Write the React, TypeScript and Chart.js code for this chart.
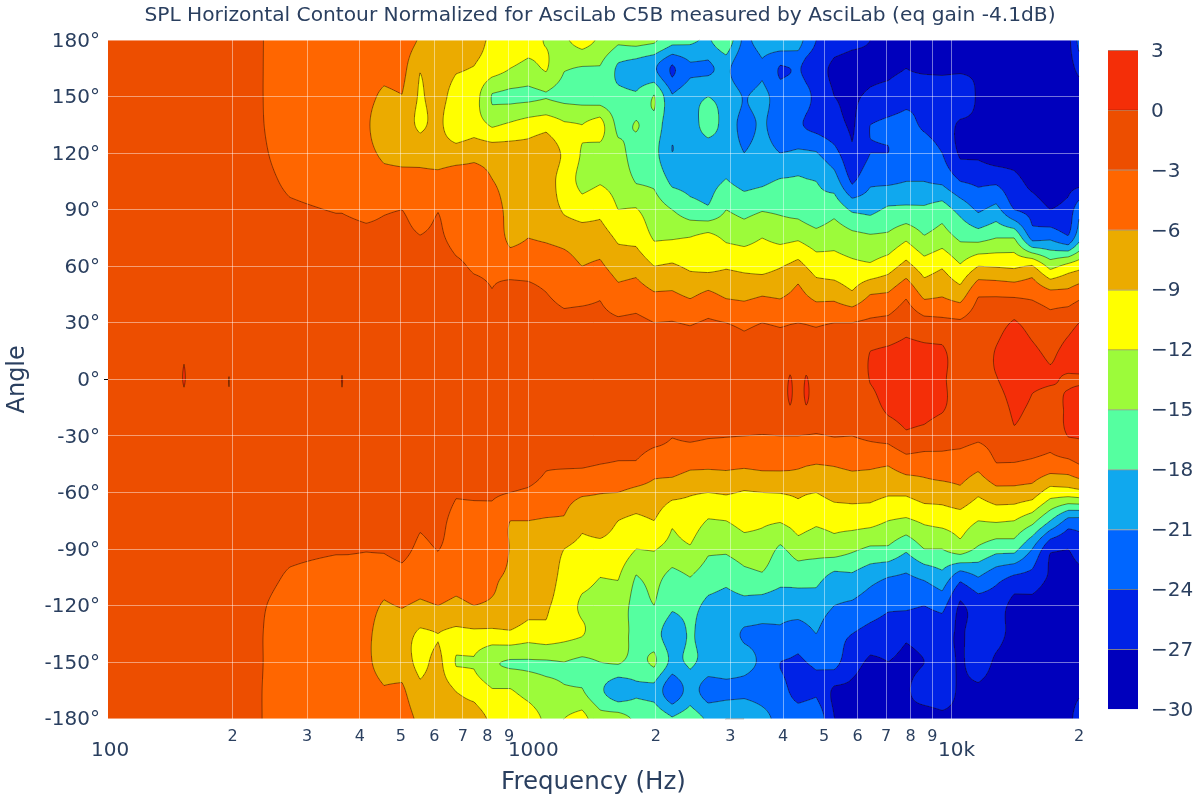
import React, { useEffect, useRef } from "react";
import { Chart, registerables } from "chart.js";

Chart.register(...registerables);

const TITLE = "SPL Horizontal Contour Normalized for AsciLab C5B measured by AsciLab (eq gain -4.1dB)";
const INK = "#2a3f5f";
const FONT = "'DejaVu Sans', Verdana, sans-serif";

const angles = [180,165,150,135,120,105,90,75,60,45,30,15,0,-15,-30,-45,-60,-75,-90,-105,-120,-135,-150,-165,-180];
const frequencies = [101.6,147,153.6,160.5,191,196,201.6,235,273,351,363,375,414,456,503,555,612,675,744,821,906,999,1101,1215,1340,1478,1630,1797,1983,2187,2412,2660,2933,3236,3568,3936,4157,4340,4536,4786,5280,5822,6422,7082,7810,8616,9502,10482,11560,12748,14062,15506,17106,18866,20000];

const c101 = [-2,-2,-2,-2,-2,-2,-1.9,-1.9,-1.8,-1.8,-1.7,-1.6,-1.5,-1.6,-1.7,-1.8,-1.8,-1.9,-1.9,-2,-2,-2,-2,-2,-2];
const c147 = [-1.9,-1.9,-1.9,-1.9,-1.8,-1.8,-1.8,-1.7,-1.7,-1.6,-1.5,-1.3,-1,-1.3,-1.5,-1.6,-1.7,-1.7,-1.8,-1.8,-1.8,-1.9,-1.9,-1.9,-1.9];
const c154 = [-1.9,-1.9,-1.9,-1.9,-1.8,-1.8,-1.8,-1.7,-1.7,-1.6,-1.4,-0.4,0.2,-0.9,-1.5,-1.6,-1.7,-1.7,-1.8,-1.8,-1.8,-1.9,-1.9,-1.9,-1.9];
const c160 = [-1.9,-1.9,-1.9,-1.9,-1.8,-1.8,-1.8,-1.7,-1.7,-1.6,-1.5,-1.3,-1,-1.3,-1.5,-1.6,-1.7,-1.7,-1.8,-1.8,-1.8,-1.9,-1.9,-1.9,-1.9];
const c191 = [-2.2,-2.2,-2.2,-2.1,-2.1,-2,-1.9,-1.8,-1.7,-1.6,-1.5,-1.3,-1,-1.2,-1.4,-1.6,-1.7,-1.8,-1.9,-2,-2.1,-2.2,-2.2,-2.2,-2.2];
const c196 = [-2.2,-2.2,-2.2,-2.1,-2.1,-2,-1.9,-1.8,-1.7,-1.6,-1.5,-1.3,0.1,-0.7,-1.4,-1.6,-1.7,-1.8,-1.9,-2,-2.1,-2.2,-2.2,-2.2,-2.2];
const c202 = [-2.3,-2.3,-2.3,-2.2,-2.2,-2.1,-1.9,-1.8,-1.7,-1.6,-1.5,-1.3,-1,-1.2,-1.4,-1.6,-1.7,-1.8,-1.9,-2.1,-2.2,-2.3,-2.3,-2.3,-2.3];
const c235 = [-2.95,-2.95,-2.95,-2.9,-2.7,-2.4,-2.2,-2,-1.8,-1.6,-1.5,-1.3,-1.1,-1.3,-1.5,-1.6,-1.8,-2,-2.2,-2.3,-2.8,-2.95,-2.95,-3,-3];
const c273 = [-4,-4.2,-4.3,-4.3,-4,-3.4,-2.7,-2.2,-2,-1.8,-1.6,-1.4,-1.2,-1.4,-1.6,-1.8,-2,-2.2,-2.5,-3.3,-4,-4.3,-4.3,-4.2,-4];
const c351 = [-4.8,-4.8,-4.8,-4.8,-4.6,-4,-3.1,-2.4,-2,-1.7,-1.5,-1.3,-1,-1.3,-1.5,-1.7,-2,-2.4,-2.8,-4,-4.8,-5,-5,-4.9,-4.8];
const c363 = [-4.8,-4.8,-4.8,-4.8,-4.6,-4,-3.1,-2.4,-2,-1.7,-1.5,-1.3,0.1,-0.8,-1.5,-1.7,-2,-2.4,-2.8,-4,-4.8,-5,-5,-4.9,-4.8];
const c375 = [-4.9,-4.9,-4.9,-4.9,-4.7,-4.1,-3.2,-2.4,-2,-1.7,-1.5,-1.3,-1,-1.2,-1.4,-1.6,-1.9,-2.3,-2.8,-4,-4.9,-5.2,-5.2,-5,-4.9];
const c414 = [-5,-5,-5.3,-5.6,-5.3,-4.5,-3.5,-2.5,-1.8,-1.5,-1.3,-1,-1,-1.1,-1.3,-1.5,-1.8,-2.2,-2.9,-4,-5,-5.5,-5.5,-5,-5];
const c456 = [-4.5,-5.2,-6.5,-7.5,-6.5,-5,-3.2,-2.6,-2,-1.7,-1.5,-1.2,-1,-1.2,-1.4,-1.6,-1.9,-2.2,-2.8,-4.5,-6.3,-7,-7,-5.8,-5];
const c503 = [-4.5,-5,-6.1,-7.5,-6.8,-5,-3,-2.5,-2,-1.7,-1.5,-1.2,-1,-1.2,-1.4,-1.5,-1.7,-1.8,-2.2,-4,-5.8,-7.8,-7.5,-5.5,-5];
const c555 = [-6.3,-8.8,-9.5,-9.6,-7,-5.2,-4,-2.9,-2,-1.7,-1.5,-1.2,-1,-1.2,-1.3,-1.5,-1.6,-2.6,-3.6,-4.8,-6.5,-9.5,-10,-8.2,-6.5];
const c612 = [-7.5,-7.3,-7.5,-8,-7.3,-5,-3.1,-2.6,-2,-1.7,-1.5,-1.2,-1,-1.2,-1.4,-1.5,-1.8,-2.3,-2.9,-4.5,-6,-9,-8,-7.5,-7];
const c675 = [-8,-8.7,-10.5,-11.5,-7.5,-4.5,-4.2,-3.6,-2.7,-2.3,-1.8,-1.4,-1.1,-1.2,-1.5,-2,-2.8,-3.7,-4,-5,-6.7,-9.8,-12.2,-9.1,-8];
const c744 = [-8,-9.1,-10.5,-10.5,-6.8,-4.9,-4,-3.6,-3.2,-2.4,-1.9,-1.5,-1.2,-1.3,-1.6,-2,-2.7,-3.8,-4.5,-5,-6,-9.6,-12.2,-10,-7.8];
const c821 = [-9.5,-10.6,-15.2,-12.4,-7.2,-5.9,-4.8,-3.8,-3.3,-2.9,-2.2,-1.8,-1.5,-1.5,-1.8,-2.2,-2.7,-3.8,-4.5,-5.7,-6.4,-9.8,-14.8,-11.8,-9.5];
const c906 = [-10.5,-12,-15.5,-11.6,-7.5,-7,-6.8,-6.8,-4,-2.2,-1.8,-1.5,-1.3,-1.4,-1.8,-2.3,-3,-6,-6.1,-6.3,-6.8,-9.5,-15.2,-11.8,-10];
const c999 = [-11,-12.8,-15.5,-10.7,-7.8,-7.4,-7,-6,-4,-2.3,-1.8,-1.5,-1.3,-1.4,-1.8,-2.2,-3.3,-6,-7,-7.4,-8,-10.5,-15.2,-13,-10.7];
const c1101 = [-12.2,-11.7,-15.1,-10,-7,-7.3,-7.2,-6.3,-4.2,-2.9,-1.9,-1.5,-1.3,-1.5,-2,-2.8,-3.8,-6.2,-7,-7.4,-8.5,-10,-15.2,-14,-12.5];
const c1215 = [-12.5,-14.8,-15.7,-11.6,-9.5,-10.5,-9.4,-6.8,-5,-3.8,-2.3,-2,-1.5,-1.5,-2.1,-2.7,-5,-6.3,-9,-10,-10.5,-11,-15,-14.7,-12];
const c1340 = [-10.7,-15.2,-16,-12,-12.3,-12.8,-10.5,-7.3,-6,-3.8,-2.1,-1.8,-1.5,-1.5,-2,-2.7,-5.6,-8.2,-9.8,-11,-12.5,-11.8,-15.5,-14.8,-11];
const c1478 = [-12.5,-15.2,-16.5,-10.8,-13,-12.2,-9.8,-7.5,-5.5,-3.3,-2.3,-1.8,-1.5,-1.5,-2,-3,-5.9,-7.5,-9.9,-12,-13,-13.5,-15,-17.5,-14];
const c1630 = [-14.5,-18.5,-17.2,-16,-13.8,-12.8,-12,-9.5,-7.3,-5,-2.6,-2,-1.6,-1.6,-2.3,-3.2,-6,-9,-10,-11.8,-13.5,-14,-14.7,-20,-13.8];
const c1797 = [-14,-19.5,-17.5,-14.8,-16.5,-15.2,-11.8,-9.8,-7,-4.6,-2.4,-2,-1.6,-1.6,-1.7,-3.3,-6.7,-9.7,-12,-15.2,-16,-15.7,-16,-18.5,-15.5];
const c1983 = [-14.5,-20.5,-14.8,-16,-17,-15.5,-13.6,-12.3,-9,-5.7,-3,-2.2,-1.6,-1.5,-2,-4.8,-7,-9,-11.8,-14,-15,-16.7,-14.5,-18.8,-16];
const c2187 = [-17,-24.5,-20.8,-20.5,-21,-18.7,-15,-12.2,-8.6,-5.6,-2.9,-2.2,-1.6,-1.5,-2.9,-4.5,-8,-11.5,-13,-16,-17.5,-20,-19,-23.5,-17.8];
const c2412 = [-17.5,-21.5,-19,-20,-20,-19,-16.7,-11.9,-9.5,-6.5,-3.2,-2.3,-1.7,-1.5,-2.5,-5.3,-8.7,-10.5,-12.3,-15,-17,-17.5,-17.5,-19.5,-16.5];
const c2660 = [-18.5,-21.5,-18,-16,-20.5,-19,-17.5,-11,-9.8,-5.4,-2.7,-2,-1.6,-1.4,-2.8,-5.4,-9,-12.2,-14.5,-16.5,-18.7,-19.5,-19,-22.5,-18.5];
const c2933 = [-15.5,-20,-19,-19.5,-19.2,-17.8,-15,-12.5,-9.3,-6.5,-3,-2.2,-1.6,-1.3,-2.9,-5.3,-8.7,-12,-14.5,-17.2,-19.2,-20,-18.7,-22,-18];
const c3236 = [-22,-24,-21.3,-22,-21,-19,-16,-13,-9.7,-6.8,-3.5,-2.4,-1.7,-1.4,-3,-5.5,-9.2,-11,-13.5,-16,-19,-21.3,-20,-21.8,-18];
const c3568 = [-19.5,-21.5,-20,-20.5,-19.8,-18.5,-15.2,-12,-10,-6.2,-3,-2.3,-1.6,-1.4,-3.1,-5.2,-9,-11.5,-13.3,-15.5,-19.5,-21.5,-21.5,-22.3,-20];
const c3936 = [-19,-24.3,-22.5,-22.5,-21,-17.7,-15.5,-12.8,-9.2,-6.5,-3.3,-2.3,-1.6,-1.3,-3,-5.2,-8.9,-11.8,-15.5,-17,-20,-21.5,-24,-23,-22];
const c4157 = [-19.2,-24,-22,-23,-20.8,-17.6,-15.8,-12.6,-8.6,-5.8,-3.1,-2.2,0.3,-0.1,-3,-5.3,-8.7,-11.2,-14.5,-17,-19.8,-22,-24.2,-24.2,-22];
const c4340 = [-19.5,-23.5,-21,-23.5,-20.5,-17.5,-16,-12.4,-8,-5,-3,-2.2,-1.5,-1.3,-3,-5.5,-8.5,-10.5,-13.5,-17,-19.5,-22.5,-24.5,-25.5,-22];
const c4536 = [-22,-25,-23,-24.3,-20.6,-17.8,-16.6,-13,-9.1,-6,-3.1,-2.3,0.3,-0.1,-3.1,-5.8,-8.8,-11,-13.8,-17,-19.5,-21.8,-24,-25,-21.8];
const c4786 = [-24,-26,-25,-25,-20.8,-18,-17.3,-13.7,-10.3,-7,-3.3,-2.4,-1.5,-1.2,-3.2,-6,-9,-11.5,-14,-17,-19.5,-21,-23.5,-24.5,-21.5];
const c5280 = [-26,-27.5,-27,-26,-23,-19.5,-16,-13,-10.7,-7,-3,-2.2,-1.5,-1.3,-2.9,-5.8,-8,-11,-13.5,-19,-21,-23,-23,-27.5,-27];
const c5822 = [-26.5,-28,-27.5,-27.5,-26.5,-24.5,-18.5,-14,-11.3,-8.5,-3,-2.3,-1.6,-1.4,-3,-5.4,-7.9,-10.8,-14.5,-18.6,-21.5,-24,-26,-27.5,-27.5];
const c6422 = [-27,-27.5,-26.5,-24,-24,-21.5,-18.8,-14.5,-11.5,-6,-2.5,0,0.1,-1,-2.5,-5.5,-8,-11,-15.5,-20,-22.5,-25,-27.5,-28,-28];
const c7082 = [-27.5,-27.5,-26,-23.5,-24,-21.5,-17.5,-14.3,-10.3,-5.7,-2.2,0.3,0.6,0.5,-2,-5.8,-8.6,-12,-15.5,-21,-23.5,-25.5,-27,-27.5,-28];
const c7810 = [-27,-27,-25,-23,-22.5,-21,-17.3,-12.5,-8,-3.5,-1,0.7,1,1,-0.5,-4.5,-8.5,-12.5,-17.5,-21.5,-23.5,-26.5,-27.5,-27.3,-27.5];
const c8616 = [-27.5,-27.5,-24.5,-24.5,-22,-21,-17.5,-14.7,-10.5,-6.8,-2,0.5,0.7,0.9,-1,-4.7,-7.5,-11.5,-15,-20.5,-24,-26,-27,-26,-28];
const c9502 = [-27,-27.5,-25,-25.5,-24,-21.5,-16.5,-13.5,-9.3,-6.3,-2.3,0.4,0.3,0.3,-2,-4,-7.5,-11,-15,-19,-23,-26,-25.5,-25.5,-27.5];
const c10482 = [-28,-27.5,-24.5,-27.5,-27.5,-24,-19,-15.5,-11.7,-7.5,-2.6,-1.5,-1,-1.3,-2.1,-4.3,-6.7,-10.5,-13.5,-23,-27.5,-27.5,-27.5,-27.5,-27.5];
const c11560 = [-29,-27.5,-27.5,-27.5,-27.5,-24.6,-21.5,-16,-9,-3.3,-1.5,-1,-0.8,-1,-2.5,-5.2,-8.5,-12,-15.5,-21,-25.5,-25.5,-25.5,-27.5,-28];
const c12748 = [-29,-28,-28,-27.5,-28.5,-24.5,-20,-15,-9.2,-3.3,-1,0.1,-0.1,-1.2,-2.2,-3.1,-7,-11.7,-17,-23,-25.5,-26,-27.5,-28,-28];
const c14062 = [-29,-29,-29,-29,-28.5,-26,-24,-15,-9.5,-3.5,0.3,1,0.9,0.5,-0.5,-3.2,-7,-12,-17,-24.5,-28,-28,-28.5,-28.5,-29];
const c15506 = [-29,-29,-29,-29,-29,-28,-25,-22,-8.7,-3.7,-1,0.3,0.2,-0.3,-1.2,-3.6,-7.5,-14,-21,-25,-28,-29,-29,-29,-29];
const c17106 = [-28.5,-28.5,-29,-29,-29,-29,-27,-21.5,-13,-5,-2,-0.4,0.1,-0.8,-2,-4.3,-10.5,-18,-26.5,-27.5,-29,-29.5,-29.5,-29.5,-29.5];
const c18866 = [-28,-28.5,-29.3,-29.5,-29,-28,-26,-23.5,-11,-5,-1,0.5,-0.1,0.3,0.1,-4,-10.5,-22,-27,-28,-29,-29.5,-29.5,-29.5,-29];
const c20000 = [-23,-26,-29,-29.5,-29,-28,-22,-19,-10,-4,0,0.9,-0.1,0.8,0.2,-3,-10,-22,-25.5,-28,-29,-29.5,-29,-28,-24];

const columns = [c101,c147,c154,c160,c191,c196,c202,c235,c273,c351,c363,c375,c414,c456,c503,c555,c612,c675,c744,c821,c906,c999,c1101,c1215,c1340,c1478,c1630,c1797,c1983,c2187,c2412,c2660,c2933,c3236,c3568,c3936,c4157,c4340,c4536,c4786,c5280,c5822,c6422,c7082,c7810,c8616,c9502,c10482,c11560,c12748,c14062,c15506,c17106,c18866,c20000];

const levels = [-30,-27,-24,-21,-18,-15,-12,-9,-6,-3,0,3];
const bandColors = ["#0000bd","#0022e6","#0066ff","#10a8ee","#55ffa0","#9cfb3a","#ffff00","#ebab00","#ff6600","#ed4e00","#f42e08"];

const minorTicks = [200,300,400,500,600,700,800,900,2000,3000,4000,5000,6000,7000,8000,9000,20000];
const majorTicks = [1000,10000];
const majorLabels: [number, string][] = [[100,"100"],[1000,"1000"],[10000,"10k"]];

function hex(c: string) {
  return [parseInt(c.slice(1, 3), 16), parseInt(c.slice(3, 5), 16), parseInt(c.slice(5, 7), 16)];
}
const bandRgb = bandColors.map(hex);
const logF = frequencies.map((f) => Math.log10(f));

function cr(a: number, b: number, c: number, d: number, t: number) {
  return b + 0.5 * t * (c - a + t * (2 * a - 5 * b + 4 * c - d + t * (3 * (b - c) + d - a)));
}
function sample(lf: number, a: number) {
  let i = 0;
  while (i < logF.length - 2 && logF[i + 1] <= lf) i++;
  const tx = Math.max(0, Math.min(1, (lf - logF[i]) / (logF[i + 1] - logF[i])));
  const rf = (180 - a) / 15;
  const j = Math.max(0, Math.min(angles.length - 2, Math.floor(rf)));
  const ty = rf - j;
  const rj = (k: number) => Math.max(0, Math.min(angles.length - 1, k));
  const at = (cl: number[]) => cr(cl[rj(j - 1)], cl[j], cl[j + 1], cl[rj(j + 2)], ty);
  return at(columns[i]) * (1 - tx) + at(columns[i + 1]) * tx;
}

const contourPlugin = {
  id: "contourPlugin",
  beforeDatasetsDraw(chart: any) {
    const { ctx, chartArea, scales } = chart;
    const L = Math.round(chartArea.left), T = Math.round(chartArea.top);
    const W = Math.round(chartArea.right) - L, H = Math.round(chartArea.bottom) - T;
    const g = new Float32Array((W + 1) * (H + 1));
    for (let py = 0; py <= H; py++) {
      const a = scales.y.getValueForPixel(T + py);
      for (let px = 0; px <= W; px++) {
        g[py * (W + 1) + px] = sample(Math.log10(scales.x.getValueForPixel(L + px)), a);
      }
    }
    const img = ctx.createImageData(W, H);
    for (let py = 0; py < H; py++) {
      for (let px = 0; px < W; px++) {
        const o = py * (W + 1) + px;
        const v = (g[o] + g[o + 1] + g[o + W + 1] + g[o + W + 2]) / 4;
        const b = Math.max(0, Math.min(bandRgb.length - 1, Math.floor((v + 30) / 3)));
        const p = (py * W + px) * 4;
        img.data[p] = bandRgb[b][0];
        img.data[p + 1] = bandRgb[b][1];
        img.data[p + 2] = bandRgb[b][2];
        img.data[p + 3] = 255;
      }
    }
    ctx.putImageData(img, L, T);
    ctx.save();
    ctx.strokeStyle = "rgba(30,15,0,0.55)";
    ctx.lineWidth = 0.9;
    ctx.beginPath();
    for (const lv of levels.slice(1, -1)) {
      for (let py = 0; py < H; py++) {
        for (let px = 0; px < W; px++) {
          const o = py * (W + 1) + px;
          const a = g[o], b = g[o + 1], c = g[o + W + 2], d = g[o + W + 1];
          const pts: number[][] = [];
          if (a < lv !== b < lv) pts.push([px + (lv - a) / (b - a), py]);
          if (b < lv !== c < lv) pts.push([px + 1, py + (lv - b) / (c - b)]);
          if (d < lv !== c < lv) pts.push([px + (lv - d) / (c - d), py + 1]);
          if (a < lv !== d < lv) pts.push([px, py + (lv - a) / (d - a)]);
          if (pts.length >= 2) {
            ctx.moveTo(L + pts[0][0], T + pts[0][1]);
            ctx.lineTo(L + pts[1][0], T + pts[1][1]);
          }
          if (pts.length === 4) {
            ctx.moveTo(L + pts[2][0], T + pts[2][1]);
            ctx.lineTo(L + pts[3][0], T + pts[3][1]);
          }
        }
      }
    }
    ctx.stroke();
    ctx.restore();
  },
  afterDraw(chart: any) {
    const { ctx, scales } = chart;
    ctx.save();
    ctx.fillStyle = INK;
    ctx.font = `20px ${FONT}`;
    ctx.textAlign = "center";
    ctx.textBaseline = "middle";
    for (const [v, s] of majorLabels) {
      ctx.fillText(s, scales.x.getPixelForValue(v) + 5, 751);
    }
    ctx.restore();
  },
};

export default function App() {
  const mainRef = useRef<HTMLCanvasElement | null>(null);
  const barRef = useRef<HTMLCanvasElement | null>(null);

  useEffect(() => {
    document.body.style.margin = "0";
    document.body.style.background = "#fff";
    const points: { x: number; y: number; z: number }[] = [];
    frequencies.forEach((f, i) =>
      angles.forEach((a, j) => points.push({ x: f, y: a, z: columns[i][j] }))
    );
    const main = new Chart(mainRef.current as HTMLCanvasElement, {
      type: "scatter",
      data: { datasets: [{ label: "SPL", data: points, pointRadius: 0, showLine: false }] },
      options: {
        animation: false,
        responsive: false,
        devicePixelRatio: 1,
        layout: { padding: 0 },
        plugins: {
          legend: { display: false },
          tooltip: { enabled: false },
          title: {
            display: true,
            text: TITLE,
            color: INK,
            font: { family: FONT, size: 20.2, weight: "normal" },
            padding: { top: 4, bottom: 11.76 },
          },
        },
        scales: {
          x: {
            type: "logarithmic",
            min: 101.6,
            max: 20000,
            afterBuildTicks(s: any) {
              s.ticks = [...minorTicks, ...majorTicks].sort((a, b) => a - b).map((v) => ({ value: v }));
            },
            afterFit(s: any) {
              s.height = 81.3;
            },
            ticks: {
              autoSkip: false,
              maxRotation: 0,
              color: INK,
              padding: 9,
              font: { family: FONT, size: 16 },
              callback: (v: any) => (majorTicks.includes(Number(v)) ? "" : String(Number(v)).charAt(0)),
            },
            grid: { color: "rgba(255,255,255,0.45)", z: 1, drawTicks: false },
            border: { display: false },
            title: {
              display: true,
              text: "Frequency (Hz)",
              color: INK,
              font: { family: FONT, size: 24.5 },
              padding: { top: 0, bottom: 3 },
            },
          },
          y: {
            type: "linear",
            min: -180,
            max: 180,
            afterFit(s: any) {
              s.width = 108;
            },
            ticks: {
              stepSize: 30,
              color: INK,
              padding: 4,
              labelOffset: 1.5,
              font: { family: FONT, size: 20 },
              callback: (v: any) => `${v}°`,
            },
            grid: {
              color: "rgba(255,255,255,0.45)",
              z: 1,
              tickLength: 4,
              tickColor: (c: any) => (c.tick && c.tick.value === 0 ? "#000" : "rgba(0,0,0,0)"),
            },
            border: { display: false },
            title: {
              display: true,
              text: "Angle",
              color: INK,
              font: { family: FONT, size: 24 },
              padding: { top: 3, bottom: 0 },
            },
          },
          gutter: {
            type: "linear",
            position: "right",
            min: 0,
            max: 1,
            afterFit(s: any) {
              s.width = 121;
            },
            ticks: { display: false },
            grid: { display: false },
            border: { display: false },
          },
        },
      } as any,
      plugins: [contourPlugin as any],
    });

    const bar = new Chart(barRef.current as HTMLCanvasElement, {
      type: "bar",
      data: {
        labels: ["dB"],
        datasets: bandColors.map((color, i) => ({
          label: `${levels[i]}`,
          data: [[levels[i], levels[i + 1]]],
          backgroundColor: color,
          borderColor: "rgba(30,15,0,0.45)",
          borderWidth: { top: 1, right: 0, bottom: 0, left: 0 },
          borderSkipped: false,
          barPercentage: 1,
          categoryPercentage: 1,
          grouped: false,
        })),
      } as any,
      options: {
        animation: false,
        responsive: false,
        devicePixelRatio: 1,
        layout: { padding: { left: 1108, right: 0, top: 50, bottom: 90.7 } },
        plugins: { legend: { display: false }, tooltip: { enabled: false } },
        scales: {
          x: { display: false },
          y: {
            position: "right",
            min: -30,
            max: 3,
            afterFit(s: any) {
              s.width = 62;
            },
            grid: { display: false },
            border: { display: false },
            ticks: {
              stepSize: 3,
              color: INK,
              padding: 5,
              labelOffset: 1.5,
              font: { family: FONT, size: 20 },
              callback: (v: any) => String(v).replace("-", "\u2212"),
            },
          },
        },
      } as any,
    });
    return () => {
      main.destroy();
      bar.destroy();
    };
  }, []);

  return (
    <div style={{ position: "relative", width: 1200, height: 800, background: "#fff" }}>
      <canvas ref={mainRef} width={1200} height={800} style={{ position: "absolute", left: 0, top: 0 }} />
      <canvas ref={barRef} width={1200} height={800} style={{ position: "absolute", left: 0, top: 0 }} />
    </div>
  );
}
